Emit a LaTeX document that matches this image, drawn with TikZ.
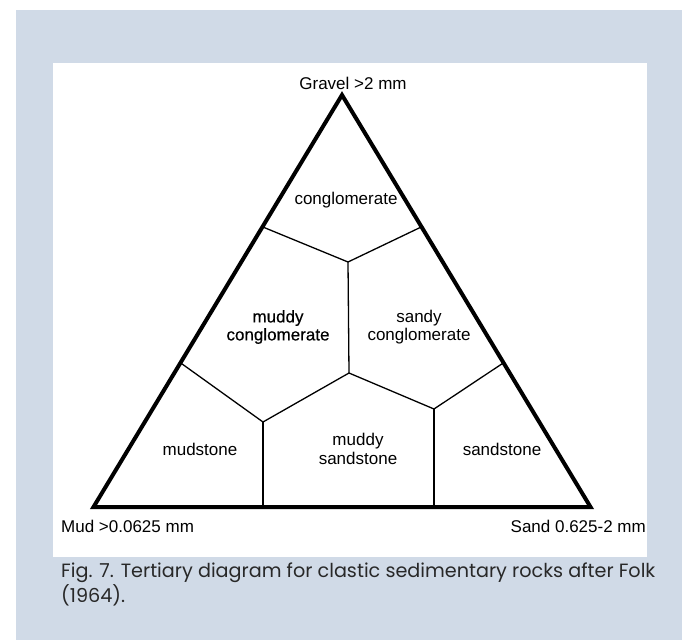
\documentclass[tikz,border=0pt]{standalone}
\usepackage{fontspec}
\setmainfont{Liberation Sans}
\newfontfamily\capfont[Numbers=Lining]{Poppins}
\newfontfamily\heavyfont[FakeBold=0.35]{Liberation Sans}
\usetikzlibrary{calc}
\definecolor{bandblue}{RGB}{208,218,231}
\definecolor{captext}{RGB}{40,40,40}
\tikzset{
  lbl/.style={inner sep=0pt, font=\fontsize{17}{18.5}\selectfont, align=center},
  edge/.style={line width=4pt, line join=miter, miter limit=10},
  split/.style={line width=1.3pt},
}
\begin{document}
\begin{tikzpicture}[x=1pt,y=-1pt]
\useasboundingbox (0,0) rectangle (685,640);
\fill[white] (0,0) rectangle (685,640);
\fill[bandblue] (16,10) rectangle (682,640);
\fill[white] (53,63) rectangle (647,557);

% triangle vertices
\coordinate (A) at (342,95);
\coordinate (B) at (93.5,507);
\coordinate (C) at (590.5,507);

% boundary points on the sides
\coordinate (L1) at ($(A)!0.32!(B)$);
\coordinate (R1) at ($(A)!0.32!(C)$);
\coordinate (L2) at ($(A)!0.65!(B)$);
\coordinate (R2) at ($(A)!0.65!(C)$);
% internal junctions
\coordinate (Q) at (348,262);
\coordinate (M) at (349,373);
\coordinate (S) at (263,422);
\coordinate (T) at (434,409);
\coordinate (Sb) at (S|-B);
\coordinate (Tb) at (T|-C);

\draw[split] (L1) -- (Q) -- (R1);
\draw[split] (Q) -- (M);
\draw[split] (L2) -- (S) -- (M) -- (T) -- (R2);
\draw[split] (S) -- (Sb);
\draw[split] (T) -- (Tb);

\draw[edge] (A) -- (B) -- (C) -- cycle;

% corner labels
\node[lbl, anchor=base] (gravel) at (353,89) {Gravel >2 mm};
\node[lbl, anchor=base west] (mud) at (61,532) {Mud >0.0625 mm};
\node[lbl, anchor=base east] (sand) at (646,532) {Sand 0.625-2 mm};

% field labels
\node[lbl] (cong) at (346,200) {conglomerate};
\node[lbl, font=\heavyfont\fontsize{17}{18}\selectfont] (mcong) at (278,327) {muddy\\conglomerate};
\node[lbl, font=\fontsize{17}{18}\selectfont] (scong) at (419,327) {sandy\\conglomerate};
\node[lbl] (mudst) at (200,449) {mudstone};
\node[lbl, font=\fontsize{17}{19}\selectfont] (msand) at (358,449) {muddy\\sandstone};
\node[lbl] (sandst) at (502,449) {sandstone};

% caption
\node[inner sep=0pt, anchor=base west, align=left, text=captext,
      font=\capfont\fontsize{19.2}{23}\selectfont] (caption) at (61,602)
  {Fig. 7. Tertiary diagram for clastic sedimentary rocks after Folk\\(1964).};
\end{tikzpicture}
\end{document}
